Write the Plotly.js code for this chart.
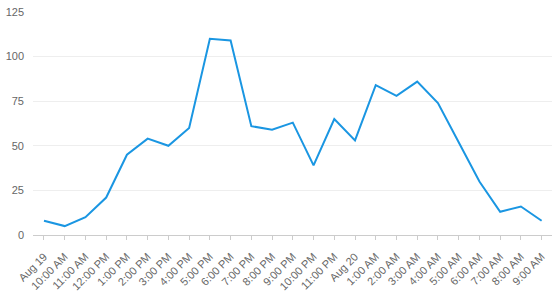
<!DOCTYPE html>
<html>
<head>
<meta charset="utf-8">
<script src="https://cdn.plot.ly/plotly-3.0.1.min.js"></script>
<style>html,body{margin:0;padding:0;background:#fff;}#chart{width:552px;height:298px;}</style>
</head>
<body>
<div id="chart"></div>
<script>
const labels = ["Aug 19","10:00 AM","11:00 AM","12:00 PM","1:00 PM","2:00 PM","3:00 PM","4:00 PM","5:00 PM","6:00 PM","7:00 PM","8:00 PM","9:00 PM","10:00 PM","11:00 PM","Aug 20","1:00 AM","2:00 AM","3:00 AM","4:00 AM","5:00 AM","6:00 AM","7:00 AM","8:00 AM","9:00 AM"];
const values = [8,5,10,21,45,54,50,60,110,109,61,59,63,39,65,53,84,78,86,74,52,30,13,16,8];
const yTicks = [0,25,50,75,100,125];

const idx = labels.map((_, i) => i);
Plotly.newPlot('chart', [{
  x: idx, y: values, type: 'scatter', mode: 'lines',
  line: {color: '#1a96e2', width: 2}, hoverinfo: 'none'
}], {
  width: 552, height: 298,
  margin: {l: 33, r: 0, t: 12, b: 63},
  paper_bgcolor: '#fff', plot_bgcolor: '#fff',
  showlegend: false,
  font: {family: 'Liberation Sans, Arial, sans-serif', size: 11, color: '#666'},
  xaxis: {
    range: [-0.53, 24.5], tickmode: 'array', tickvals: idx, ticktext: labels,
    tickangle: -45, ticks: 'outside', ticklen: 4, tickcolor: '#ccc',
    ticklabelstandoff: 6,
    showline: true, linecolor: '#ccc', linewidth: 1, showgrid: false, zeroline: false,
    tickfont: {size: 11, color: '#666'}
  },
  yaxis: {
    range: [0, 125], tickmode: 'array', tickvals: yTicks,
    showgrid: true, gridcolor: '#eeeeee', zeroline: false, showline: false,
    ticks: '', ticklabelstandoff: 8, tickfont: {size: 11, color: '#666'}
  }
}, {staticPlot: true});
</script>
</body>
</html>
